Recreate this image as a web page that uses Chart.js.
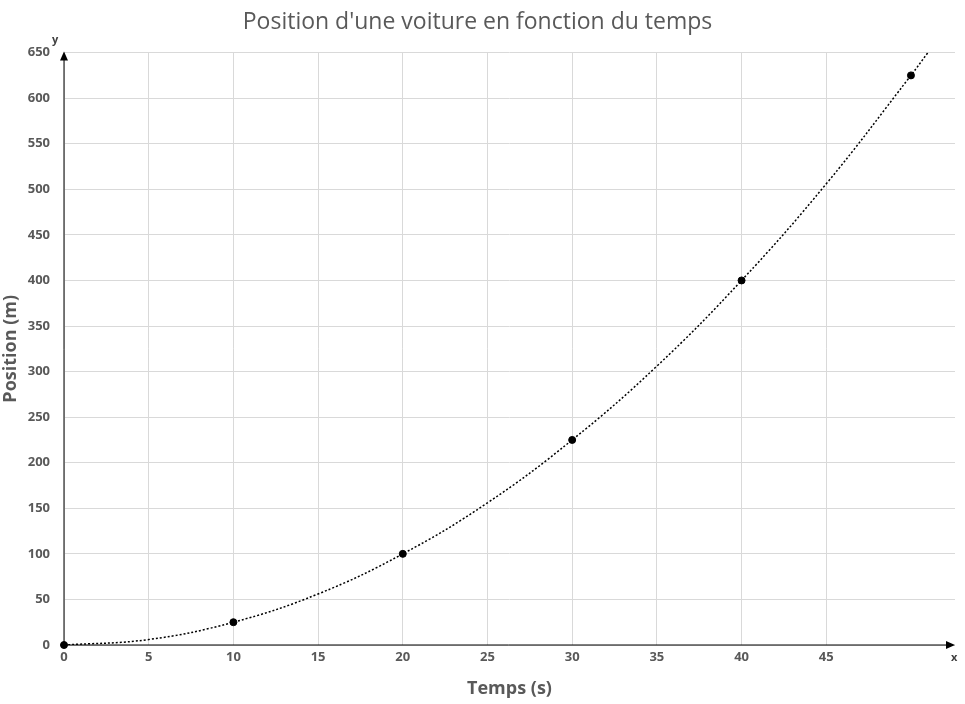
<!DOCTYPE html>
<html>
<head>
<meta charset="utf-8">
<script src="https://cdn.jsdelivr.net/npm/chart.js@4"></script>
<style>
  body { margin: 0; background: #fff; }
  #wrap { width: 965px; height: 704px; }
</style>
</head>
<body>
<div id="wrap"><canvas id="c"></canvas></div>
<script>
// measured points (s, m)
const times = [0, 10, 20, 30, 40, 50];
const positions = [0, 25, 100, 225, 400, 625];
// dotted trend curve
const trendTimes = [0, 5, 10, 15, 20, 25, 30, 35, 40, 45, 50, 51];
const trendPositions = [0, 6, 25, 56, 100, 156, 225, 306, 400, 506, 625, 650];

const grey = '#595959';

// black axis lines with arrow heads and x / y letters
const axisArrows = {
  id: 'axisArrows',
  afterDraw(chart) {
    const { ctx, chartArea: a } = chart;
    ctx.save();
    ctx.strokeStyle = '#000';
    ctx.fillStyle = '#000';
    ctx.lineWidth = 1;
    ctx.beginPath();
    ctx.moveTo(a.left, a.bottom); ctx.lineTo(a.right - 2, a.bottom);
    ctx.moveTo(a.left, a.bottom); ctx.lineTo(a.left, a.top + 2);
    ctx.stroke();
    ctx.beginPath();
    ctx.moveTo(a.right, a.bottom); ctx.lineTo(a.right - 9, a.bottom - 4); ctx.lineTo(a.right - 9, a.bottom + 4);
    ctx.fill();
    ctx.beginPath();
    ctx.moveTo(a.left, a.top - 1); ctx.lineTo(a.left - 4, a.top + 8); ctx.lineTo(a.left + 4, a.top + 8);
    ctx.fill();
    ctx.font = 'bold 11px "Open Sans", sans-serif';
    ctx.fillStyle = '#404040';
    ctx.fillText('x', a.right - 4, a.bottom + 16);
    ctx.fillText('y', a.left - 12, a.top - 10);
    ctx.restore();
  }
};

new Chart(document.getElementById('c'), {
  type: 'scatter',
  data: {
    datasets: [
      {
        label: 'Tendance',
        type: 'line',
        data: trendTimes.map((t, i) => ({ x: t, y: trendPositions[i] })),
        borderColor: '#000',
        borderWidth: 1.5,
        borderDash: [2, 2],
        pointRadius: 0,
        tension: 0.4,
        fill: false
      },
      {
        label: 'Position',
        data: times.map((t, i) => ({ x: t, y: positions[i] })),
        backgroundColor: '#000',
        borderColor: '#000',
        pointRadius: 3.5,
        clip: false
      }
    ]
  },
  options: {
    responsive: true,
    maintainAspectRatio: false,
    animation: false,
    layout: { padding: { top: 9, right: 10, left: 0, bottom: 0 } },
    plugins: {
      legend: { display: false },
      tooltip: { enabled: false },
      title: {
        display: true,
        text: "Position d'une voiture en fonction du temps",
        color: grey,
        font: { family: '"Open Sans", sans-serif', size: 23, weight: 'normal' },
        padding: { top: 0, bottom: 16 }
      }
    },
    scales: {
      x: {
        type: 'linear',
        min: 0,
        max: 52.6,
        afterFit: s => { s.height = 59; },
        afterBuildTicks: s => {
          s.ticks = s.ticks.filter(t => Math.abs(t.value / 5 - Math.round(t.value / 5)) < 1e-6)
            .map(t => ({ value: Math.round(t.value) }));
        },
        ticks: { stepSize: 5, color: grey, font: { family: '"Open Sans", sans-serif', size: 13, weight: 'bold' }, padding: 4 },
        grid: { color: '#d9d9d9', drawTicks: false },
        border: { display: false },
        title: { display: true, text: 'Temps (s)', color: grey, font: { family: '"Open Sans", sans-serif', size: 18, weight: 'bold' }, padding: { top: 9 } }
      },
      y: {
        min: 0,
        max: 650,
        afterFit: s => { s.width = 64; },
        ticks: { stepSize: 50, color: grey, font: { family: '"Open Sans", sans-serif', size: 13, weight: 'bold' }, padding: 14 },
        grid: { color: '#d9d9d9', drawTicks: false },
        border: { display: false },
        title: { display: true, text: 'Position (m)', color: grey, font: { family: '"Open Sans", sans-serif', size: 18, weight: 'bold' }, padding: 0 }
      }
    }
  },
  plugins: [axisArrows]
});
</script>
</body>
</html>
